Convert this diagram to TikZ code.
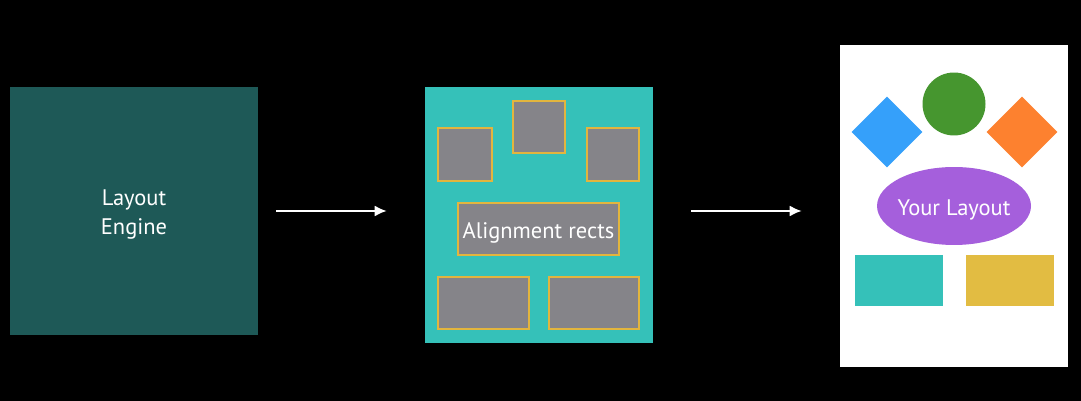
\documentclass[tikz,border=0pt]{standalone}
\usepackage{fontspec}
\setmainfont{PT Sans}
\usetikzlibrary{shapes.geometric,arrows.meta,positioning}
\definecolor{enginegreen}{HTML}{1E5957}
\definecolor{panelteal}{HTML}{35C1B9}
\definecolor{rectgray}{HTML}{858489}
\definecolor{rectborder}{HTML}{E2B53E}
\definecolor{shapeblue}{HTML}{35A0FA}
\definecolor{shapegreen}{HTML}{46962F}
\definecolor{shapeorange}{HTML}{FD812F}
\definecolor{shapepurple}{HTML}{A55FDC}
\definecolor{shapeyellow}{HTML}{E2BC42}
\begin{document}
\begin{tikzpicture}[x=0.02cm, y=-0.02cm, >=latex]
        \tikzstyle{caption}=[text=white, font=\fontsize{12.8}{16.3}\selectfont, align=center, yshift=-0.07cm];
        \tikzstyle{arect}=[draw=rectborder, line width=0.85pt, fill=rectgray, inner sep=0pt];
        \tikzstyle{flow}=[white, line width=1.1pt, shorten <=0.36cm, shorten >=0.76cm, -{Latex[length=2.4mm,width=2.2mm]}];
        \tikzstyle{solid}=[inner sep=0pt, draw=none];

        \fill[black] (0,0) rectangle (1081,401);

        \node[fill=enginegreen, inner sep=0pt, minimum width=4.96cm, minimum height=4.96cm] (engine) at (134,211) {};
        \node[caption] (enginetext) at (engine) {Layout\\Engine};

        % alignment rects
        \node[fill=panelteal, inner sep=0pt, minimum width=4.56cm, minimum height=5.12cm] (panel) at (539,215) {};
        \node[arect, minimum width=1.08cm, minimum height=1.06cm] (tl) at (465,154.5) {};
        \node[arect, minimum width=1.04cm, minimum height=1.04cm] (tm) at (539,127) {};
        \node[arect, minimum width=1.04cm, minimum height=1.06cm] (tr) at (613,154.5) {};
        \node[arect, minimum width=3.22cm, minimum height=1.04cm] (align) at (538.5,229) {};
        \node[caption] (aligntext) at (align) {Alignment rects};
        \node[arect, minimum width=1.82cm, minimum height=1.04cm] (bl) at (483.5,303) {};
        \node[arect, minimum width=1.80cm, minimum height=1.04cm] (br) at (594,303) {};

        % your layout
        \node[fill=white, inner sep=0pt, minimum width=4.56cm, minimum height=6.44cm] (page) at (954,206) {};
        \node[solid, diamond, fill=shapeblue, minimum size=1.42cm] (blue) at (887,132) {};
        \node[solid, circle, fill=shapegreen, minimum size=1.26cm] (green) at (954,104) {};
        \node[solid, diamond, fill=shapeorange, minimum size=1.42cm] (orange) at (1022,132) {};
        \node[solid, ellipse, fill=shapepurple, minimum width=3.08cm, minimum height=1.56cm] (yours) at (954,206) {};
        \node[caption] (yourstext) at (yours) {Your Layout};
        \node[solid, fill=panelteal, minimum width=1.76cm, minimum height=1.02cm] (tealbox) at (899,280.5) {};
        \node[solid, fill=shapeyellow, minimum width=1.76cm, minimum height=1.02cm] (yellowbox) at (1010,280.5) {};

        \draw[flow] (engine.east) -- (engine.east -| panel.west);
        \draw[flow, shorten <=0.76cm] (panel.east |- engine.east) -- (page.west |- engine.east);
    \end{tikzpicture}
\end{document}
